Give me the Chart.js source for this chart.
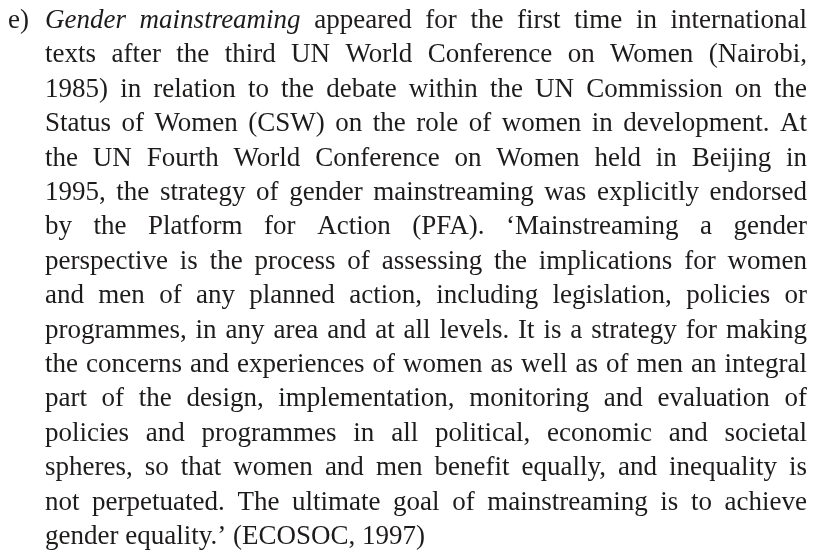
<!DOCTYPE html>
<html>
<head>
<meta charset="utf-8">
<script src="https://cdn.jsdelivr.net/npm/chart.js@4"></script>
<style>
  html, body { margin: 0; padding: 0; background: #ffffff; }
  #wrap { width: 816px; height: 555px; }
</style>
</head>
<body>
<div id="wrap"><canvas id="textChart" width="816" height="555"></canvas></div>
<script>
// paragraph label and its lines, as printed (words in *...* are italic)
const itemLabel = "e)";
const textLines = [
    "*Gender* *mainstreaming* appeared for the first time in international",
    "texts after the third UN World Conference on Women (Nairobi,",
    "1985) in relation to the debate within the UN Commission on the",
    "Status of Women (CSW) on the role of women in development. At",
    "the UN Fourth World Conference on Women held in Beijing in",
    "1995, the strategy of gender mainstreaming was explicitly endorsed",
    "by the Platform for Action (PFA). \u2018Mainstreaming a gender",
    "perspective is the process of assessing the implications for women",
    "and men of any planned action, including legislation, policies or",
    "programmes, in any area and at all levels. It is a strategy for making",
    "the concerns and experiences of women as well as of men an integral",
    "part of the design, implementation, monitoring and evaluation of",
    "policies and programmes in all political, economic and societal",
    "spheres, so that women and men benefit equally, and inequality is",
    "not perpetuated. The ultimate goal of mainstreaming is to achieve",
    "gender equality.\u2019 (ECOSOC, 1997)"
];

const FONT_FAMILY = '"Liberation Serif", "DejaVu Serif", serif';
const FONT_SIZE = 27;
const TEXT_COLOR = "#1e1b1b";

const fontFor = (italic) => (italic ? "italic " : "") + FONT_SIZE + "px " + FONT_FAMILY;

const paragraphPlugin = {
    id: "paragraph",
    afterDraw(chart) {
        const ctx = chart.ctx;
        const left = 45, right = 807;
        const top = 28, lineGap = 34.4;

        ctx.save();
        ctx.fillStyle = TEXT_COLOR;
        ctx.textBaseline = "alphabetic";

        ctx.font = fontFor(false);
        ctx.fillText(itemLabel, 8, top);
        const space = ctx.measureText(" ").width;
        const minGap = space * 0.75;

        textLines.forEach((line, i) => {
            const y = top + i * lineGap;
            const words = line.split(" ").map(w => {
                const italic = w.startsWith("*") && w.endsWith("*");
                return { text: italic ? w.slice(1, -1) : w, italic: italic };
            });
            let total = 0;
            words.forEach(w => {
                ctx.font = fontFor(w.italic);
                w.width = ctx.measureText(w.text).width;
                total += w.width;
            });
            const last = i === textLines.length - 1;
            let gap = space;
            let sx = 1;
            if (!last && words.length > 1) {
                gap = (right - left - total) / (words.length - 1);
                if (gap < minGap) {
                    // squeeze the line a little so it still fills the measure
                    gap = minGap;
                    sx = (right - left) / (total + gap * (words.length - 1));
                }
            }
            ctx.save();
            ctx.translate(left, y);
            ctx.scale(sx, 1);
            let x = 0;
            words.forEach(w => {
                ctx.font = fontFor(w.italic);
                ctx.fillText(w.text, x, 0);
                x += w.width + gap;
            });
            ctx.restore();
        });
        ctx.restore();
    }
};

const config = {
    type: "scatter",
    data: { datasets: [{ data: [] }] },
    options: {
        responsive: false,
        animation: false,
        layout: { padding: 0 },
        plugins: { legend: { display: false }, tooltip: { enabled: false } },
        scales: { x: { display: false }, y: { display: false } }
    },
    plugins: [paragraphPlugin]
};

const textChart = new Chart(document.getElementById("textChart"), config);
</script>
</body>
</html>
